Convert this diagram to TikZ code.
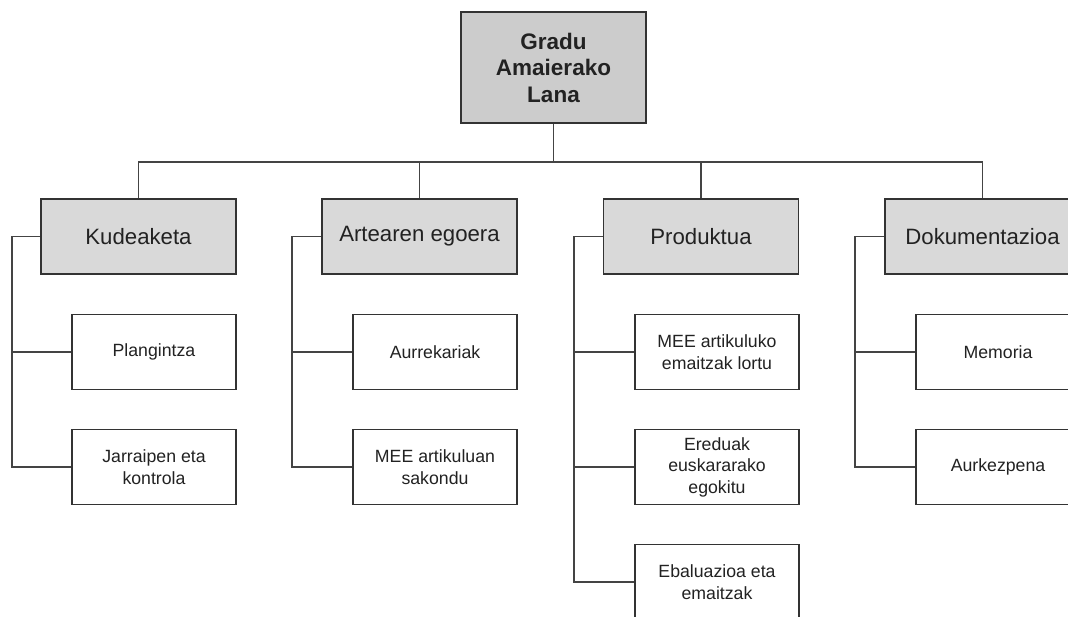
\documentclass[tikz,border=0pt]{standalone}
\usepackage{fontspec}
\setmainfont{Liberation Sans}
\definecolor{rootfill}{HTML}{CCCCCC}
\definecolor{catfill}{HTML}{D9D9D9}
\definecolor{edge}{HTML}{333333}
\definecolor{wire}{HTML}{444444}
\definecolor{ink}{HTML}{222222}
\begin{document}
\begin{tikzpicture}[x=1pt,y=-1pt,
  box/.style={draw=edge, line width=1.3pt, rectangle, inner sep=0pt, align=center, text=ink},
  rootbox/.style={box, fill=rootfill, minimum width=185pt, minimum height=111pt, font=\fontsize{22.5}{26.5}\selectfont\bfseries},
  catbox/.style={box, fill=catfill, minimum width=195pt, minimum height=75pt, font=\fontsize{22.2}{26}\selectfont},
  leafbox/.style={box, fill=white, minimum width=164pt, minimum height=75pt, font=\fontsize{17.7}{21.5}\selectfont},
  wire/.style={draw=wire, line width=1.1pt}]
\useasboundingbox (0,0) rectangle (1068,616);
\clip (0,0) rectangle (1068,616);

\node[rootbox] (root) at (553.5,67.5) {Gradu\\Amaierako\\Lana};

\node[catbox] (c1) at (138.5,236.5) {Kudeaketa};
\node[catbox] (c2) at (419.5,236.5) {Artearen egoera};
\node[catbox] (c3) at (701,236.5) {Produktua};
\node[catbox] (c4) at (982.5,236.5) {Dokumentazioa};

\node[leafbox] (l11) at (154,352) {Plangintza};
\node[leafbox] (l12) at (154,467) {Jarraipen eta\\kontrola};
\node[leafbox] (l21) at (435,352) {Aurrekariak};
\node[leafbox] (l22) at (435,467) {MEE artikuluan\\sakondu};
\node[leafbox] (l31) at (717,352) {MEE artikuluko\\emaitzak lortu};
\node[leafbox] (l32) at (717,467) {Ereduak\\euskararako\\egokitu};
\node[leafbox] (l33) at (717,582) {Ebaluazioa eta\\emaitzak};
\node[leafbox] (l41) at (998,352) {Memoria};
\node[leafbox] (l42) at (998,467) {Aurkezpena};

\coordinate (bus) at (553.5,162);
\coordinate (t1) at (12,236.5);
\coordinate (t2) at (292,236.5);
\coordinate (t3) at (574,236.5);
\coordinate (t4) at (855,236.5);

\path[wire] (root.south) -- (bus);
\path[wire] (c1.north) |- (bus);
\path[wire] (c2.north) |- (bus);
\path[wire] (c3.north) |- (bus);
\path[wire] (c4.north) |- (bus);

\path[wire] (c1.west) -- (t1) |- (l12.west);
\path[wire] (t1) |- (l11.west);
\path[wire] (c2.west) -- (t2) |- (l22.west);
\path[wire] (t2) |- (l21.west);
\path[wire] (c3.west) -- (t3) |- (l33.west);
\path[wire] (t3) |- (l31.west);
\path[wire] (t3) |- (l32.west);
\path[wire] (c4.west) -- (t4) |- (l42.west);
\path[wire] (t4) |- (l41.west);
\end{tikzpicture}
\end{document}
